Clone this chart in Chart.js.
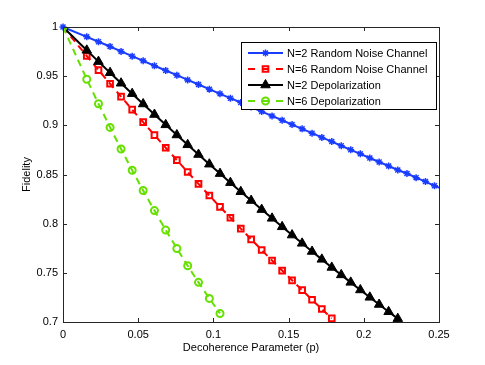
<!DOCTYPE html>
<html>
<head>
<meta charset="UTF-8">
<title>Fidelity vs Decoherence</title>
<script src="https://cdn.jsdelivr.net/npm/chart.js"></script>
<style>
  body { margin: 0; background: #fff; }
  #wrap { width: 485px; height: 365px; }
</style>
</head>
<body>
<div id="wrap"><canvas id="fidChart" width="485" height="365"></canvas></div>
<script>
// decoherence parameter p at each marker (shared grid)
const pValues = [0, 0.0158, 0.0236, 0.0313, 0.0386, 0.0460, 0.0533, 0.0608, 0.0683, 0.0757,
  0.0829, 0.0901, 0.0973, 0.1044, 0.1113, 0.1182, 0.1251, 0.1321, 0.1390, 0.1457,
  0.1523, 0.1590, 0.1656, 0.1721, 0.1787, 0.1850, 0.1913, 0.1977, 0.2040, 0.2102,
  0.2165, 0.2226, 0.2287, 0.2348, 0.2410, 0.2470, 0.2530];

// fidelity
const n2Random = [1, 0.9900, 0.9850, 0.9802, 0.9752, 0.9703, 0.9656, 0.9606, 0.9558, 0.9510,
  0.9462, 0.9415, 0.9368, 0.9320, 0.9276, 0.9232, 0.9186, 0.9140, 0.9096, 0.9052,
  0.9008, 0.8964, 0.8920, 0.8877, 0.8835, 0.8792, 0.8751, 0.8710, 0.8668, 0.8627,
  0.8586, 0.8546, 0.8510, 0.8468, 0.8428, 0.8385, 0.8348];
const n6Random = [1, 0.9705, 0.9562, 0.9423, 0.9292, 0.9160, 0.9032, 0.8901, 0.8772, 0.8646,
  0.8525, 0.8405, 0.8286, 0.8171, 0.8060, 0.7950, 0.7841, 0.7732, 0.7625, 0.7523,
  0.7424, 0.7324, 0.7226, 0.7132, 0.7037];
const n2Depol = [1, 0.9763, 0.9648, 0.9535, 0.9428, 0.9322, 0.9217, 0.9110, 0.9005, 0.8902,
  0.8802, 0.8703, 0.8605, 0.8509, 0.8417, 0.8325, 0.8235, 0.8143, 0.8054, 0.7968,
  0.7884, 0.7800, 0.7717, 0.7637, 0.7555, 0.7479, 0.7403, 0.7326, 0.7251, 0.7178,
  0.7104, 0.7034];
const n6Depol = [1, 0.9469, 0.9219, 0.8979, 0.8759, 0.8543, 0.8337, 0.8133, 0.7935, 0.7748,
  0.7572, 0.7403, 0.7240, 0.7087];

const seriesNames = ['N=2 Random Noise Channel', 'N=6 Random Noise Channel', 'N=2 Depolarization', 'N=6 Depolarization'];
const xTicks = [0, 0.05, 0.1, 0.15, 0.2, 0.25];
const yTicks = [0.7, 0.75, 0.8, 0.85, 0.9, 0.95, 1];

function toPoints(ys) {
  return ys.map((y, i) => ({ x: pValues[i], y: y }));
}

Chart.defaults.font.family = "'Liberation Sans', Arial, sans-serif";
Chart.defaults.font.size = 11;
Chart.defaults.color = '#000';

const BLUE = '#1a3cff', RED = '#ff0000', BLACK = '#000000', GREEN = '#66e000';

// draws one marker (used for the legend)
function marker(ctx, style, x, y, r, color, filled, lw) {
  ctx.save();
  ctx.setLineDash([]);
  ctx.strokeStyle = color;
  ctx.fillStyle = color;
  ctx.lineWidth = lw;
  ctx.beginPath();
  if (style === 'star') {
    ctx.moveTo(x - r, y); ctx.lineTo(x + r, y);
    ctx.moveTo(x, y - r); ctx.lineTo(x, y + r);
    const d = r * 0.707;
    ctx.moveTo(x - d, y - d); ctx.lineTo(x + d, y + d);
    ctx.moveTo(x - d, y + d); ctx.lineTo(x + d, y - d);
  } else if (style === 'rect') {
    const s = r * 0.707;
    ctx.rect(x - s, y - s, 2 * s, 2 * s);
  } else if (style === 'triangle') {
    ctx.moveTo(x, y - r);
    ctx.lineTo(x + r * 0.866, y + r / 2);
    ctx.lineTo(x - r * 0.866, y + r / 2);
    ctx.closePath();
  } else {
    ctx.arc(x, y, r, 0, Math.PI * 2);
  }
  if (filled) ctx.fill();
  ctx.stroke();
  ctx.restore();
}

const boxPlugin = {
  id: 'boxPlugin',
  afterDraw(chart) {
    const ctx = chart.ctx;
    const a = chart.chartArea;
    const xs = chart.scales.x, ys = chart.scales.y;
    ctx.save();
    ctx.strokeStyle = '#262626';
    ctx.lineWidth = 1;
    ctx.strokeRect(Math.round(a.left) + 0.5, Math.round(a.top) + 0.5,
      Math.round(a.right - a.left), Math.round(a.bottom - a.top));
    ctx.beginPath();
    xTicks.forEach(v => {
      const px = Math.round(xs.getPixelForValue(v)) + 0.5;
      ctx.moveTo(px, a.bottom); ctx.lineTo(px, a.bottom - 4);
      ctx.moveTo(px, a.top); ctx.lineTo(px, a.top + 4);
    });
    yTicks.forEach(v => {
      const py = Math.round(ys.getPixelForValue(v)) + 0.5;
      ctx.moveTo(a.left, py); ctx.lineTo(a.left + 4, py);
      ctx.moveTo(a.right, py); ctx.lineTo(a.right - 4, py);
    });
    ctx.stroke();

    // legend
    const lx = 241.5, ly = 42.5, lw = 195, lh = 67;
    ctx.fillStyle = '#fff';
    ctx.fillRect(lx, ly, lw, lh);
    ctx.strokeStyle = '#000';
    ctx.strokeRect(lx, ly, lw, lh);
    const styles = [
      { c: BLUE, dash: [], m: 'star', r: 3.5, f: false, w: 1.5 },
      { c: RED, dash: [7, 7], m: 'rect', r: 4, f: false, w: 2 },
      { c: BLACK, dash: [], m: 'triangle', r: 5.5, f: true, w: 1 },
      { c: GREEN, dash: [7, 7], m: 'circle', r: 3.5, f: false, w: 2 }
    ];
    styles.forEach((s, i) => {
      const y = 53 + i * 16;
      ctx.save();
      ctx.strokeStyle = s.c;
      ctx.lineWidth = 2;
      ctx.setLineDash(s.dash);
      ctx.beginPath();
      ctx.moveTo(248, y); ctx.lineTo(283, y);
      ctx.stroke();
      ctx.restore();
      marker(ctx, s.m, 265.5, y, s.r, s.c, s.f, s.w);
      ctx.fillStyle = '#000';
      ctx.font = "11px 'Liberation Sans', Arial, sans-serif";
      ctx.textBaseline = 'middle';
      ctx.textAlign = 'left';
      ctx.fillText(seriesNames[i], 287, y + 0.5);
    });
    ctx.restore();
  }
};

new Chart(document.getElementById('fidChart'), {
  type: 'line',
  data: {
    datasets: [
      {
        label: seriesNames[0], data: toPoints(n2Random), order: 4,
        borderColor: BLUE, borderWidth: 2, pointStyle: 'star', pointRadius: 3.5,
        pointBorderWidth: 1.5, pointBorderColor: BLUE, pointBackgroundColor: BLUE,
        clip: { left: 8, top: 8, right: 1, bottom: 8 }
      },
      {
        label: seriesNames[1], data: toPoints(n6Random), order: 3,
        borderColor: RED, borderWidth: 2, borderDash: [7, 5], pointStyle: 'rect', pointRadius: 4,
        pointBorderWidth: 2, pointBorderColor: RED, pointBackgroundColor: 'rgba(0,0,0,0)'
      },
      {
        label: seriesNames[2], data: toPoints(n2Depol), order: 2,
        borderColor: BLACK, borderWidth: 2, pointStyle: 'triangle', pointRadius: 5.5,
        pointBorderWidth: 1, pointBorderColor: BLACK, pointBackgroundColor: BLACK
      },
      {
        label: seriesNames[3], data: toPoints(n6Depol), order: 1,
        borderColor: GREEN, borderWidth: 2, borderDash: [7, 5], pointStyle: 'circle', pointRadius: 3.5,
        pointBorderWidth: 2, pointBorderColor: GREEN, pointBackgroundColor: 'rgba(0,0,0,0)'
      }
    ]
  },
  options: {
    responsive: false,
    animation: false,
    layout: { padding: { left: 0, top: 27, right: 46, bottom: 0 } },
    elements: { line: { tension: 0 } },
    plugins: { legend: { display: false }, tooltip: { enabled: false } },
    scales: {
      x: {
        type: 'linear', min: 0, max: 0.25,
        grid: { display: false, drawTicks: false },
        border: { display: false },
        afterBuildTicks: s => { s.ticks = xTicks.map(v => ({ value: v })); },
        afterFit: s => { s.height = 43; },
        ticks: { padding: 6, maxRotation: 0, callback: v => String(Number(v.toFixed(2))) },
        title: { display: true, text: 'Decoherence Parameter (p)', padding: { top: 0, bottom: 10 } }
      },
      y: {
        type: 'linear', min: 0.7, max: 1,
        grid: { display: false, drawTicks: false },
        border: { display: false },
        afterBuildTicks: s => { s.ticks = yTicks.map(v => ({ value: v })); },
        afterFit: s => { s.width = 63; },
        ticks: { padding: 5, callback: v => String(Number(v.toFixed(2))) },
        title: { display: true, text: 'Fidelity', padding: { top: 20, bottom: 0 } }
      }
    }
  },
  plugins: [boxPlugin]
});
</script>
</body>
</html>
